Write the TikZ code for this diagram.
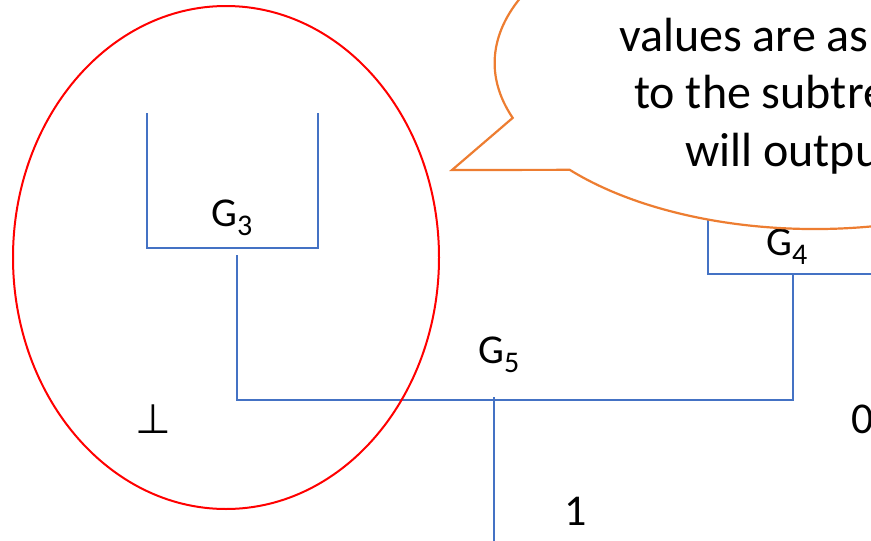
\documentclass[tikz,border=0pt]{standalone}
\usepackage{fontspec}
\setmainfont{Carlito}
\newfontfamily\symfont{DejaVu Sans}
\definecolor{tblue}{HTML}{4472C4}
\definecolor{torange}{HTML}{ED7D31}
\definecolor{tred}{HTML}{FF0000}
\newcommand{\gsub}[1]{{\fontsize{30}{30}\selectfont\raisebox{-9pt}{#1}}}
\begin{document}
\begin{tikzpicture}[x=1pt,y=-1pt,
  conn/.style={draw=tblue, line width=1.2pt},
  glab/.style={inner sep=0pt, anchor=base west, font=\fontsize{41}{41}\selectfont},
  vlab/.style={inner sep=0pt, anchor=base, font=\fontsize{44}{44}\selectfont},
  ctext/.style={inner sep=0pt, anchor=base west, font=\fontsize{48}{48}\selectfont},
  group/.style={draw=tred, line width=2pt},
  bubble/.style={draw=torange, fill=white, line width=2.2pt, line join=miter}]
\useasboundingbox (0,0) rectangle (871,541);
\clip (0,0) rectangle (871,541);

% tree connectors
\coordinate (g3tl) at (147,113);
\coordinate (g3bl) at (147,248);
\coordinate (g3br) at (318,248);
\coordinate (g3tr) at (318,113);
\draw[conn] (g3tl) -- (g3bl) -- (g3br) -- (g3tr);

\coordinate (g3root) at (237,255);
\coordinate (g5l) at (237,400);
\coordinate (g5r) at (793,400);
\coordinate (g4root) at (793,274);
\draw[conn] (g3root) -- (g5l) -- (g5r) -- (g4root);

\coordinate (g4tl) at (708,200);
\coordinate (g4bl) at (708,274);
\coordinate (g4br) at (880,274);
\draw[conn] (g4tl) -- (g4bl) -- (g4br);

\coordinate (g5top) at (494,397);
\coordinate (g5bot) at (494,545);
\draw[conn] (g5top) -- (g5bot);

% labels
\node[glab] (g3) at (211,226) {G\gsub{3}};
\node[glab] (g5) at (478,363) {G\gsub{5}};
\node[glab] (g4) at (766,255) {G\gsub{4}};
\node[vlab] (one) at (576,525) {1};
\node[glab, font=\fontsize{44}{44}\selectfont] (zero) at (851,433) {0};
\node[vlab, font=\symfont\fontsize{41}{41}\selectfont] (bot) at (153.5,433) {⊥};

% red group ellipse
\draw[group] (226,257.5) ellipse [x radius=213pt, y radius=251.5pt];

% callout
\coordinate (tip) at (452,170);
\draw[bubble] (512.7,117.9) arc[start angle=199.3, end angle=-139.96, x radius=320pt, y radius=166pt] -- (tip) -- cycle;
\node[ctext] (t1) at (619,51.7) {values are as};
\node[ctext] (t2) at (634,108.5) {to the subtre};
\node[ctext] (t3) at (685,166.5) {will outpu};
\end{tikzpicture}
\end{document}
